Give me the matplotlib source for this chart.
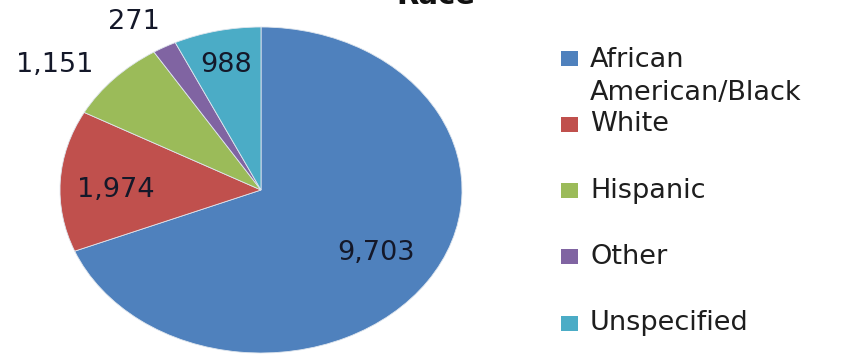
import matplotlib.pyplot as plt
import matplotlib.patches as patches
import numpy as np

# Race breakdown
categories = ["African\nAmerican/Black", "White", "Hispanic", "Other", "Unspecified"]
counts = [9703, 1974, 1151, 271, 988]
colors = ["#4F81BD", "#C0504D", "#9BBB59", "#8064A2", "#4BACC6"]

# label placement per wedge: radial distance and angle nudge (degrees)
label_r = [0.69, 0.72, 1.28, 1.21, 0.785]
label_dtheta = [0.0, 3.2, 6.4, 2.8, 0.0]

W, H = 843, 357
fig = plt.figure(figsize=(W / 100, H / 100), dpi=100)

# pie is stretched horizontally, so the axes box is wider than tall
ax = fig.add_axes([60 / W, 4 / H, 402 / W, 326 / H])
wedges, _ = ax.pie(counts, startangle=90, counterclock=False, colors=colors,
                   wedgeprops=dict(edgecolor="#dfe6ee", linewidth=0.6))
ax.set_aspect("auto")
ax.set_xlim(-1, 1)
ax.set_ylim(-1, 1)
ax.axis("off")

for w, n, r, dt in zip(wedges, counts, label_r, label_dtheta):
    mid = np.deg2rad((w.theta1 + w.theta2) / 2 + dt)
    ax.text(r * np.cos(mid), r * np.sin(mid), f"{n:,}", ha="center", va="center",
            fontsize=19.5, color="#141829", clip_on=False)

# title sits mostly above the top edge
fig.text(436 / W, 1 - 4 / H, "Race", ha="center", va="baseline",
         fontsize=21, fontweight="bold", color="#111111")

# legend drawn by hand
y0, step, line_gap = 58, 66.3, 37
for i, (name, c) in enumerate(zip(categories, colors)):
    y = y0 + i * step
    fig.add_artist(patches.Rectangle((561 / W, 1 - (y + 7.5) / H), 17 / W, 15 / H,
                                     transform=fig.transFigure, facecolor=c, edgecolor="none"))
    nlines = name.count("\n") + 1
    yc = y + (nlines - 1) * line_gap / 2
    fig.text(590 / W, 1 - yc / H, name, ha="left", va="center", fontsize=19.5,
             color="#1e1e1e", linespacing=1.35)

fig.savefig("out.png", dpi=100)
